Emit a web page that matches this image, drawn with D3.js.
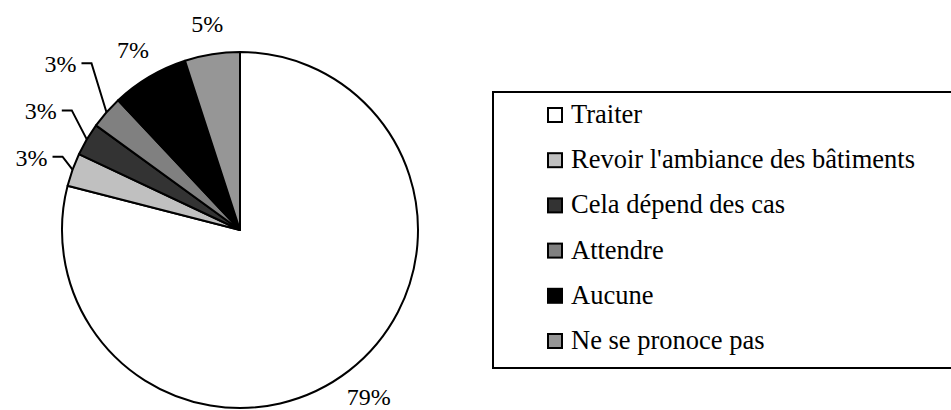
<!DOCTYPE html>
<html>
<head>
<meta charset="utf-8">
<script src="https://cdn.jsdelivr.net/npm/d3@7"></script>
<style>
  body { margin: 0; background: #fff; }
</style>
</head>
<body>
<div id="chart"></div>
<script>
const width = 951;
const height = 410;
const font = "Liberation Serif";

const categories = ["Traiter", "Revoir l'ambiance des bâtiments", "Cela dépend des cas", "Attendre", "Aucune", "Ne se pronoce pas"];
const values = [79, 3, 3, 3, 7, 5];
const colors = ["#ffffff", "#c0c0c0", "#333333", "#808080", "#000000", "#969696"];

// small slices get a leader line, nudged like the original
const leaderNudge = [null, [-10, -13], [-15, -29], [-15, -49], null, null];

const cx = 240, cy = 230, radius = 178;

const svg = d3.select("#chart")
  .append("svg")
  .attr("width", width)
  .attr("height", height);

const pie = d3.pie().sort(null).value(d => d);
const arcs = pie(values);

const arc = d3.arc().innerRadius(0).outerRadius(radius);

const gPie = svg.append("g").attr("transform", `translate(${cx},${cy})`);

gPie.selectAll("path")
  .data(arcs)
  .enter()
  .append("path")
  .attr("d", arc)
  .attr("fill", (d, i) => colors[i])
  .attr("stroke", "#000")
  .attr("stroke-width", 2)
  .attr("stroke-linejoin", "round");

function polar(angle, r) {
  return [r * Math.sin(angle), -r * Math.cos(angle)];
}

arcs.forEach((d, i) => {
  const mid = (d.startAngle + d.endAngle) / 2;
  const label = d.value + "%";
  if (leaderNudge[i]) {
    const p = polar(mid, radius);
    const elbow = [p[0] + leaderNudge[i][0], p[1] + leaderNudge[i][1]];
    gPie.append("path")
      .attr("d", d3.line()([p, elbow, [elbow[0] - 10, elbow[1]]]))
      .attr("fill", "none")
      .attr("stroke", "#000")
      .attr("stroke-width", 2);
    gPie.append("text")
      .attr("x", elbow[0] - 15)
      .attr("y", elbow[1] + 9)
      .attr("text-anchor", "end")
      .attr("font-family", font)
      .attr("font-size", 24)
      .text(label);
  } else {
    const p = polar(mid, 210);
    gPie.append("text")
      .attr("x", p[0])
      .attr("y", p[1] + 9)
      .attr("text-anchor", "middle")
      .attr("font-family", font)
      .attr("font-size", 24)
      .text(label);
  }
});

// LEGEND

const legend = svg.append("g");

legend.append("rect")
  .attr("x", 493)
  .attr("y", 92)
  .attr("width", 480)
  .attr("height", 276)
  .attr("fill", "#fff")
  .attr("stroke", "#000")
  .attr("stroke-width", 2);

const rowY = d3.scalePoint().domain(categories).range([115, 341]);

const rows = legend.selectAll("g.row")
  .data(categories)
  .enter()
  .append("g")
  .attr("class", "row")
  .attr("transform", d => `translate(0,${rowY(d)})`);

rows.append("rect")
  .attr("x", 548)
  .attr("y", -7)
  .attr("width", 14)
  .attr("height", 14)
  .attr("fill", (d, i) => colors[i])
  .attr("stroke", "#000")
  .attr("stroke-width", 2);

rows.append("text")
  .attr("x", 571)
  .attr("y", 8)
  .attr("font-family", font)
  .attr("font-size", 26.5)
  .text(d => d);
</script>
</body>
</html>
